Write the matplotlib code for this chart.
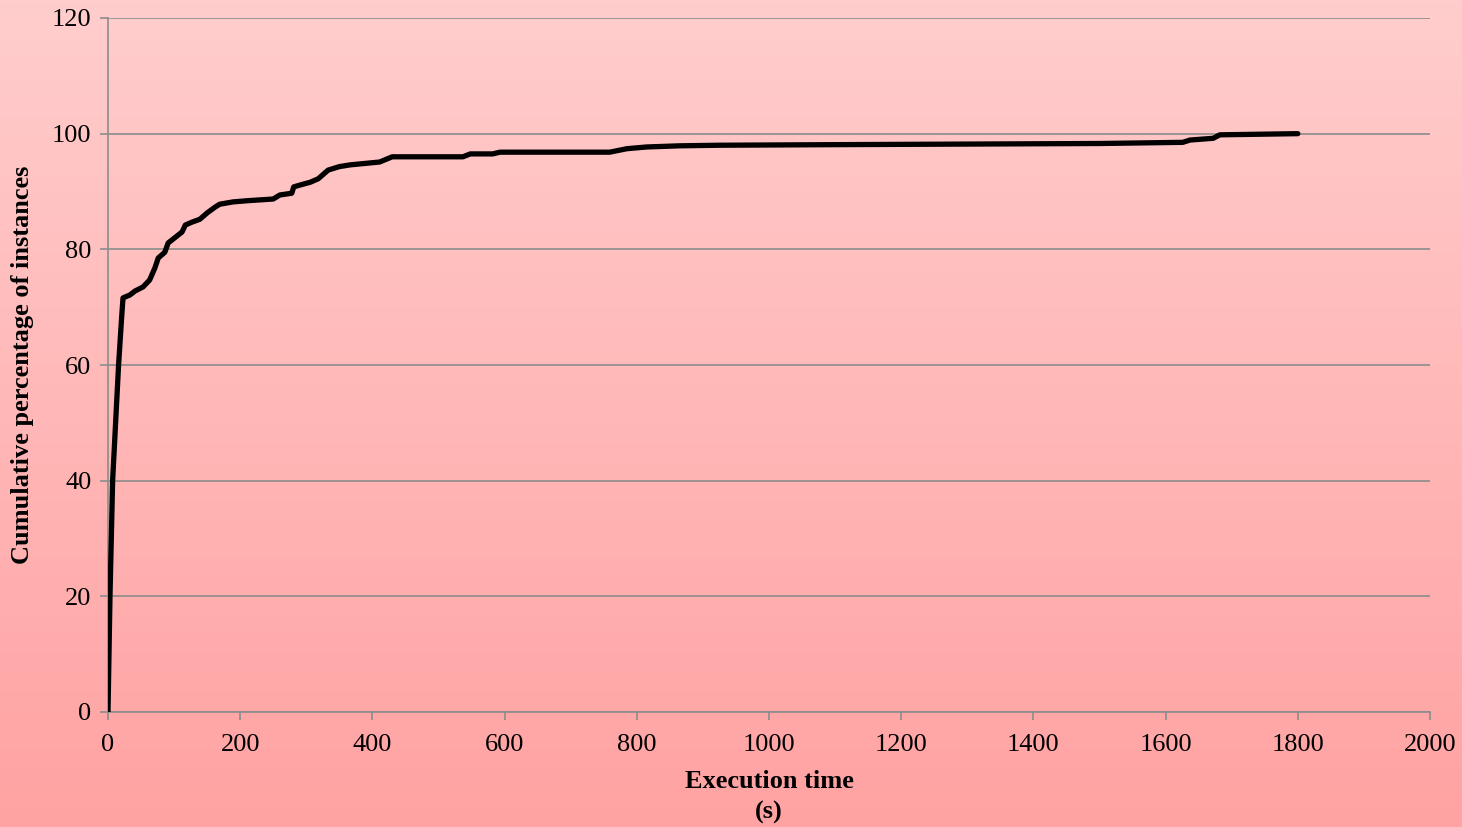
import numpy as np
import matplotlib
matplotlib.use("Agg")
import matplotlib.pyplot as plt
from matplotlib.colors import LinearSegmentedColormap

plt.rcParams['font.family'] = ['Liberation Serif', 'DejaVu Serif']

# Cumulative share of solved instances versus execution time
exec_time_s = [0, 3, 7, 16, 20.5, 22.7, 33, 41, 53, 63, 71, 76, 86, 91, 101,
               112, 117, 127, 139, 150, 162, 169, 189, 210, 250, 260, 278, 281,
               290, 306, 318, 333, 350, 366, 411, 430, 537, 548, 582, 593, 759,
               785, 815, 865, 926, 1100, 1300, 1500, 1626, 1637, 1672, 1682, 1800]
cum_pct = [0, 20, 40, 60, 68, 71.6, 72.1, 72.8, 73.5, 74.7, 76.8, 78.5, 79.5,
           81.1, 82.0, 83.0, 84.2, 84.7, 85.2, 86.3, 87.3, 87.8, 88.2, 88.4,
           88.7, 89.4, 89.7, 90.8, 91.1, 91.6, 92.2, 93.7, 94.3, 94.6, 95.1,
           96.0, 96.0, 96.5, 96.5, 96.8, 96.8, 97.4, 97.7, 97.9, 98.0, 98.1,
           98.2, 98.3, 98.5, 98.9, 99.2, 99.8, 100]

x_ticks = [0, 200, 400, 600, 800, 1000, 1200, 1400, 1600, 1800, 2000]
y_ticks = [0, 20, 40, 60, 80, 100, 120]

fig = plt.figure(figsize=(14.62, 8.27), dpi=100)

# vertical pink gradient behind everything
bg = fig.add_axes([0, 0, 1, 1], zorder=-10)
cmap = LinearSegmentedColormap.from_list("pink", ["#FFCDCD", "#FFA2A2"])
grad = np.linspace(0, 1, 256).reshape(-1, 1)
bg.imshow(grad, aspect="auto", cmap=cmap, extent=[0, 1, 0, 1], origin="upper")
bg.set_axis_off()

ax = fig.add_axes([108 / 1462, 1 - 712 / 827, (1430 - 108) / 1462, (712 - 18) / 827])
ax.set_facecolor("none")

ax.plot(exec_time_s, cum_pct, color="black", lw=3.8, solid_joinstyle="round",
        solid_capstyle="round", zorder=3)

ax.set_xlim(0, 2000)
ax.set_ylim(0, 120)
ax.set_xticks(x_ticks)
ax.set_yticks(y_ticks)
ax.grid(axis="y", color="#8C8C8C", lw=1.2)
ax.set_axisbelow(True)

for side in ("top", "right"):
    ax.spines[side].set_visible(False)
for side in ("left", "bottom"):
    ax.spines[side].set_color("#8C8C8C")
    ax.spines[side].set_linewidth(1.2)

ax.tick_params(axis="both", colors="#8C8C8C", length=6, width=1.2,
               labelcolor="black", labelsize=19)
ax.tick_params(axis="x", pad=10)
ax.tick_params(axis="y", pad=6)

ax.set_xlabel("Execution time\n(s)", fontsize=19, fontweight="bold",
              linespacing=1.45)
ax.xaxis.set_label_coords(0.5, -0.083)
ax.set_ylabel("Cumulative percentage of instances", fontsize=19,
              fontweight="bold")
ax.yaxis.set_label_coords(-0.056, 0.5)

fig.savefig("out.png", dpi=100)
